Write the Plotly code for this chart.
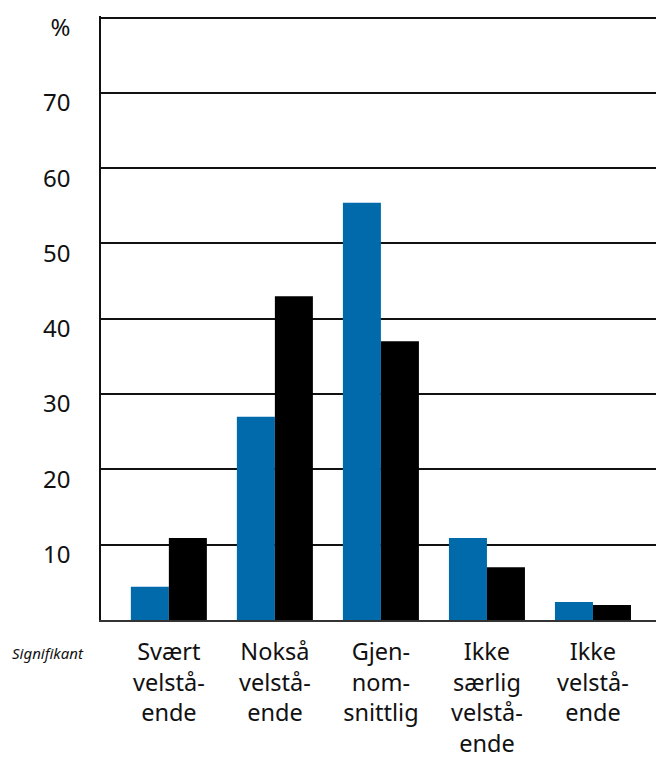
import plotly.graph_objects as go

categories = ["Svært<br>velstå-<br>ende", "Nokså<br>velstå-<br>ende", "Gjen-<br>nom-<br>snittlig",
              "Ikke<br>særlig<br>velstå-<br>ende", "Ikke<br>velstå-<br>ende"]
blue_values = [4.4, 27, 55.4, 10.9, 2.4]
black_values = [10.9, 43, 37, 7, 2]
y_tickvals = [10, 20, 30, 40, 50, 60, 70, 80]
y_ticktext = ["10", "20", "30", "40", "50", "60", "70", "%"]

FONT = "Noto Sans"

fig = go.Figure()
fig.add_trace(go.Bar(x=categories, y=blue_values, marker=dict(color="#006aab", line=dict(width=0)),
                     name="A", showlegend=False))
fig.add_trace(go.Bar(x=categories, y=black_values, marker=dict(color="#000000", line=dict(width=0)),
                     name="B", showlegend=False))

fig.update_layout(
    width=656, height=750,
    margin=dict(l=93, r=0, t=8, b=138),
    paper_bgcolor="white", plot_bgcolor="white",
    barmode="group", bargap=0.283, bargroupgap=0,
    font=dict(family=FONT, color="#111111", size=24),
    xaxis=dict(range=[-0.64, 4.67], showgrid=False, showline=True, linecolor="#333333", linewidth=1.5,
               ticks="", tickfont=dict(size=23.5, family=FONT), ticklabelstandoff=10,
               automargin=False),
    yaxis=dict(range=[0, 80.2], tickvals=y_tickvals, ticktext=y_ticktext,
               showgrid=True, gridcolor="#111111", gridwidth=1.5,
               showline=True, linecolor="#111111", linewidth=1.5,
               ticks="", tickfont=dict(size=24, family=FONT), ticklabelstandoff=24,
               ticklabelshift=10, zeroline=False, automargin=False),
    annotations=[dict(text="<i>Signifikant</i>", xref="paper", yref="paper",
                      x=-0.1616, y=-0.0546, xanchor="left", yanchor="middle", showarrow=False,
                      font=dict(size=15, family=FONT, color="#111111"))],
)

fig.write_html("out.html")
